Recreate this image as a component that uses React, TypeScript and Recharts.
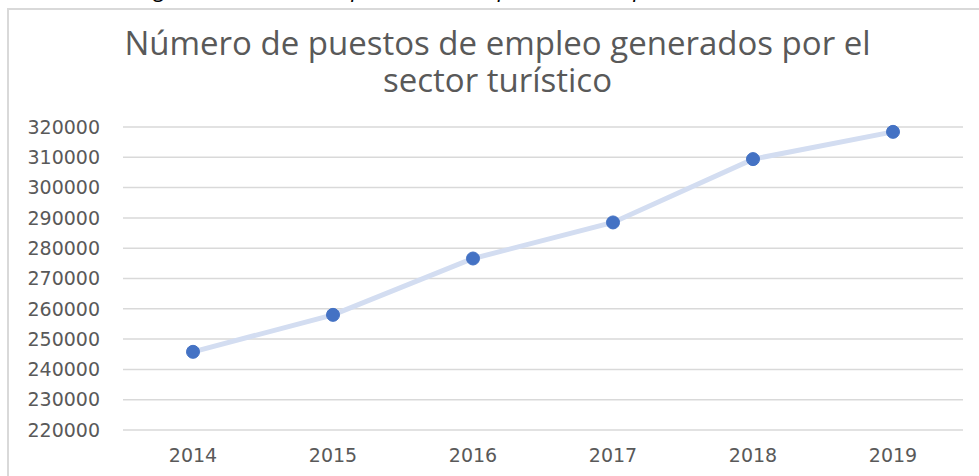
import { LineChart, Line, XAxis, YAxis, CartesianGrid } from "recharts";

const years = ["2014", "2015", "2016", "2017", "2018", "2019"];
const empleos = [245800, 258000, 276600, 288500, 309400, 318400];
const yTicks = [220000, 230000, 240000, 250000, 260000, 270000, 280000, 290000, 300000, 310000, 320000];

const data = years.map((y, i) => ({ year: y, empleos: empleos[i] }));

const GREY = "#595959";
const titleStyle = { position: "absolute" as const, left: 0, width: 995, textAlign: "center" as const, fontFamily: "'Open Sans', sans-serif", fontSize: 33, lineHeight: "33px", color: GREY, whiteSpace: "nowrap" as const };

export default function App() {
  return (
    <div style={{ position: "fixed", left: 0, top: 0, width: 979, height: 476, overflow: "hidden", background: "#fff" }}>
      {/* caption of the figure, clipped by the page edge */}
      <div style={{ position: "absolute", left: 0, top: -29, width: 979, textAlign: "center", fontFamily: "'Open Sans', sans-serif", fontStyle: "italic", fontSize: 23, color: "#000", whiteSpace: "nowrap" }}>
        Figura 5: Número de puestos de empleo creados por año (2014-2019)
      </div>
      <div style={{ position: "absolute", left: 7, top: 8, width: 1000, height: 500, border: "2px solid #d9d9d9", boxSizing: "border-box" }} />
      <div style={{ ...titleStyle, top: 26 }}>Número de puestos de empleo generados por el</div>
      <div style={{ ...titleStyle, top: 63 }}>sector turístico</div>
      <LineChart width={979} height={476} data={data} margin={{ top: 127, right: 16, left: 0, bottom: 0 }} style={{ position: "absolute", left: 0, top: 0 }}>
        <CartesianGrid horizontal vertical={false} stroke="#d9d9d9" strokeWidth={1.5} />
        <XAxis dataKey="year" height={46} axisLine={false} tickLine={false} tickSize={0} padding={{ left: 70, right: 70 }} tick={{ fontSize: 19, fill: GREY, fontFamily: "'DejaVu Sans', sans-serif" }} tickMargin={19} />
        <YAxis width={123} domain={[220000, 320000]} ticks={yTicks} axisLine={false} tickLine={false} tickSize={0} tickMargin={23} interval={0} tick={{ fontSize: 19, fill: GREY, fontFamily: "'DejaVu Sans', sans-serif" }} />
        <Line type="linear" dataKey="empleos" stroke="#d3ddf1" strokeWidth={5} dot={{ r: 6.5, fill: "#4472c4", stroke: "#4472c4", strokeWidth: 1 }} isAnimationActive={false} />
      </LineChart>
    </div>
  );
}
